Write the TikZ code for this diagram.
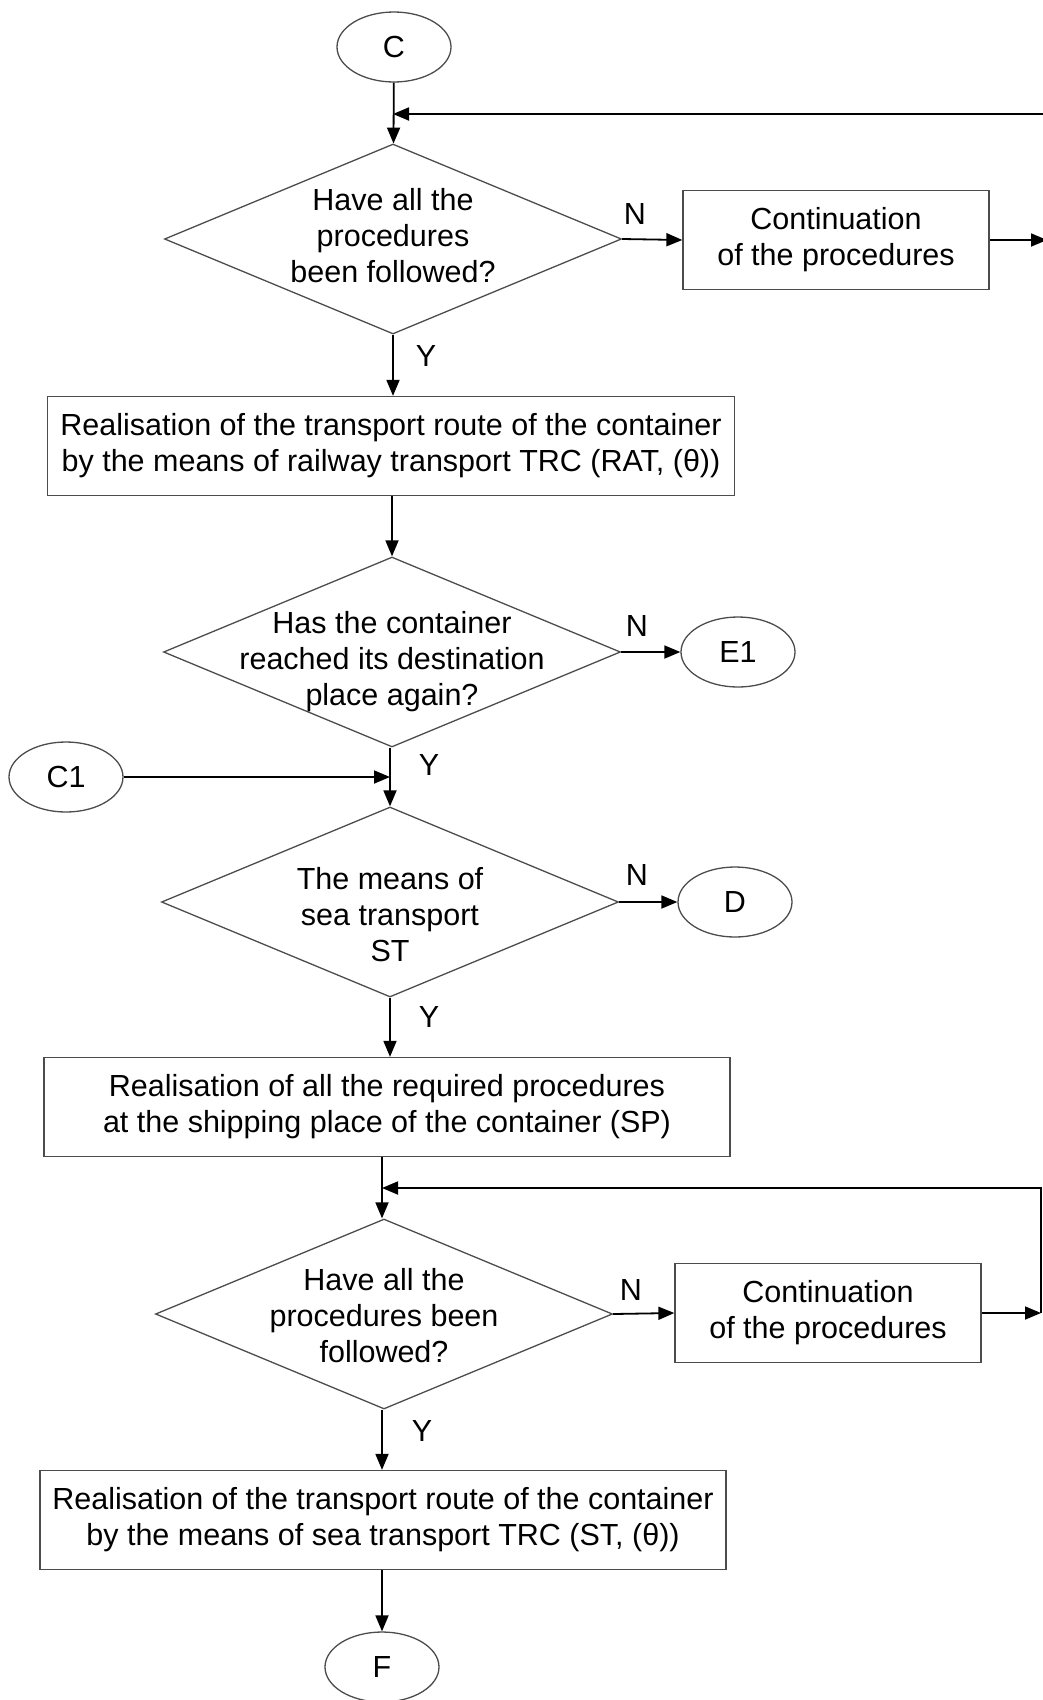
\documentclass[tikz,border=0pt]{standalone}
\usepackage{fontspec}
\setmainfont{Liberation Sans}
\usetikzlibrary{shapes.geometric,arrows.meta}

\begin{document}
\begin{tikzpicture}[x=1pt,y=-1pt,
  every node/.style={font=\fontsize{30.5}{36}\selectfont},
  term/.style={draw=black!70,line width=1.3pt,ellipse,minimum width=114pt,minimum height=70pt,inner sep=0pt},
  decision/.style={draw=black!70,line width=1.3pt,diamond,minimum width=457pt,minimum height=190pt,inner sep=0pt},
  proc/.style={draw=black!70,line width=1.3pt,rectangle,minimum height=99pt,inner sep=0pt,align=center},
  dtext/.style={align=center,inner sep=0pt},
  arr/.style={line width=1.8pt,-{Triangle[length=16pt,width=13pt]}},
  ln/.style={line width=1.8pt}]
\useasboundingbox (0,0) rectangle (1043,1700);

% first part: railway transport
\node [term] (C) at (394,47) {C};
\node [decision] (q1) at (393,239) {};
\node [dtext] (q1t) at (393,236) {Have all the\\procedures\\been followed?};
\node [proc,minimum width=306pt] (cont1) at (836,240) {Continuation\\of the procedures};
\node [proc,minimum width=687pt] (rail) at (391,446) {Realisation of the transport route of the container\\by the means of railway transport TRC (RAT, (θ))};
\node [decision] (q2) at (392,652) {};
\node [dtext] (q2t) at (392,662) {Has the container\\reached its destination\\place again?};
\node [term] (E1) at (738,652) {E1};

\coordinate (j1) at (393,114);
\coordinate (e1) at (1047,240);
\coordinate (e1top) at (1047,114);

\draw [arr] (C) -- (q1);
\draw [arr] (q1.east) -- (cont1.west);
\draw [arr] (cont1.east) -- (e1);
\draw [arr] (e1) -- (e1top) -- (j1);
\draw [arr] (q1.south) -- (rail.north -| q1.south);
\draw [arr] (rail.south -| q2.north) -- (q2.north);
\draw [arr] (q2.east) -- (E1.west);

\node (n1) at (635,214) {N};
\node (y1) at (426,356) {Y};
\node (n2) at (637,626) {N};
\node (y2) at (429,765) {Y};

% second part: sea transport
\node [term] (C1) at (66,777) {C1};
\node [decision] (q3) at (390,902) {};
\node [dtext] (q3t) at (390,915) {The means of\\sea transport\\ST};
\node [term] (D) at (735,902) {D};
\node [proc,minimum width=686pt] (ship) at (387,1107) {Realisation of all the required procedures\\at the shipping place of the container (SP)};
\node [decision] (q4) at (384,1314) {};
\node [dtext] (q4t) at (384,1316) {Have all the\\procedures been\\followed?};
\node [proc,minimum width=306pt] (cont2) at (828,1313) {Continuation\\of the procedures};
\node [proc,minimum width=686pt] (sea) at (383,1520) {Realisation of the transport route of the container\\by the means of sea transport TRC (ST, (θ))};
\node [term] (F) at (382,1667) {F};

\coordinate (j2) at (390,777);
\coordinate (j3) at (382,1188);
\coordinate (e2) at (1041,1313);
\coordinate (e2top) at (1041,1188);

\draw [ln] (q2.south -| j2) -- (j2);
\draw [arr] (C1) -- (j2);
\draw [arr] (j2) -- (q3.north);
\draw [arr] (q3.east) -- (D.west);
\draw [arr] (q3.south) -- (ship.north -| q3.south);
\draw [arr] (ship.south -| j3) -- (j3 |- q4.north);
\draw [arr] (e2) -- (e2top) -- (j3);
\draw [arr] (q4.east) -- (cont2.west);
\draw [arr] (cont2.east) -- (e2);
\draw [arr] (q4.south -| j3) -- (sea.north -| j3);
\draw [arr] (sea.south -| F.north) -- (F.north);

\node (n3) at (637,875) {N};
\node (y3) at (429,1017) {Y};
\node (n4) at (631,1290) {N};
\node (y4) at (422,1431) {Y};

\end{tikzpicture}
\end{document}
